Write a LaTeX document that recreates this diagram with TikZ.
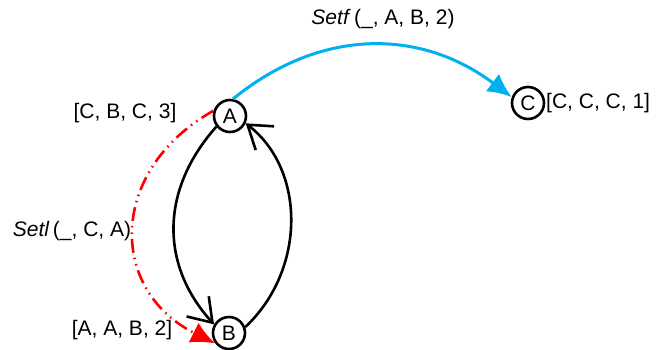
\documentclass[tikz,border=0pt]{standalone}
\usepackage{fontspec}
\setmainfont{Liberation Sans}
\usetikzlibrary{arrows.meta}
\definecolor{setfblue}{RGB}{0,176,240}
\begin{document}
\begin{tikzpicture}[x=1pt, y=-1pt, >=Latex,
		state/.style={circle, draw=black, line width=2.6pt, minimum size=32pt, inner sep=0pt},
		lbl/.style={inner sep=0pt},
		every node/.style={font=\fontsize{21}{25}\selectfont}]
	\useasboundingbox (0,0) rectangle (667,350);
	
	% --- 1. states ---
	\node[state] (A) at (230,116) {A};
	\node[state] (B) at (229,333) {B};
	\node[state] (C) at (528,103) {C};
	
	% --- 2. state vectors ---
	\node[lbl] (vA) at (125,113) {[C, B, C, 3]};
	\node[lbl] (vB) at (122,330) {[A, A, B, 2]};
	\node[lbl, right] (vC) at (546,103) {[C, C, C, 1]};
	
	% --- 3. transitions ---
	% A -> B and back (black)
	\draw[line width=2.6pt, -{Straight Barb[length=22pt, width=30pt]}]
		(A.218) .. controls (160,190) and (160,265) .. (B.150);
	\draw[line width=2.6pt, -{Straight Barb[length=22pt, width=30pt]}]
		(B.20) .. controls (306,270) and (306,170) .. (A.-25);
	% Setf (blue)
	\draw[setfblue, line width=3pt, -{Latex[length=24pt, width=22pt]}]
		(A.80) .. controls (320,28) and (420,28) .. (C.160);
	\node[lbl] (setf) at (383,19) {\textit{Setf}\,(\_, A, B, 2)};
	% Setl (red, dash dot dot)
	\draw[red, line width=2.6pt, dash pattern=on 14pt off 5pt on 1.5pt off 5pt on 1.5pt off 5pt,
		-{Latex[length=24pt, width=22pt]}]
		(A.162) .. controls (108,170) and (108,290) .. (B.217);
	\node[lbl] (setl) at (72,231) {\textit{Setl}\,(\_, C, A)};
\end{tikzpicture}
\end{document}
